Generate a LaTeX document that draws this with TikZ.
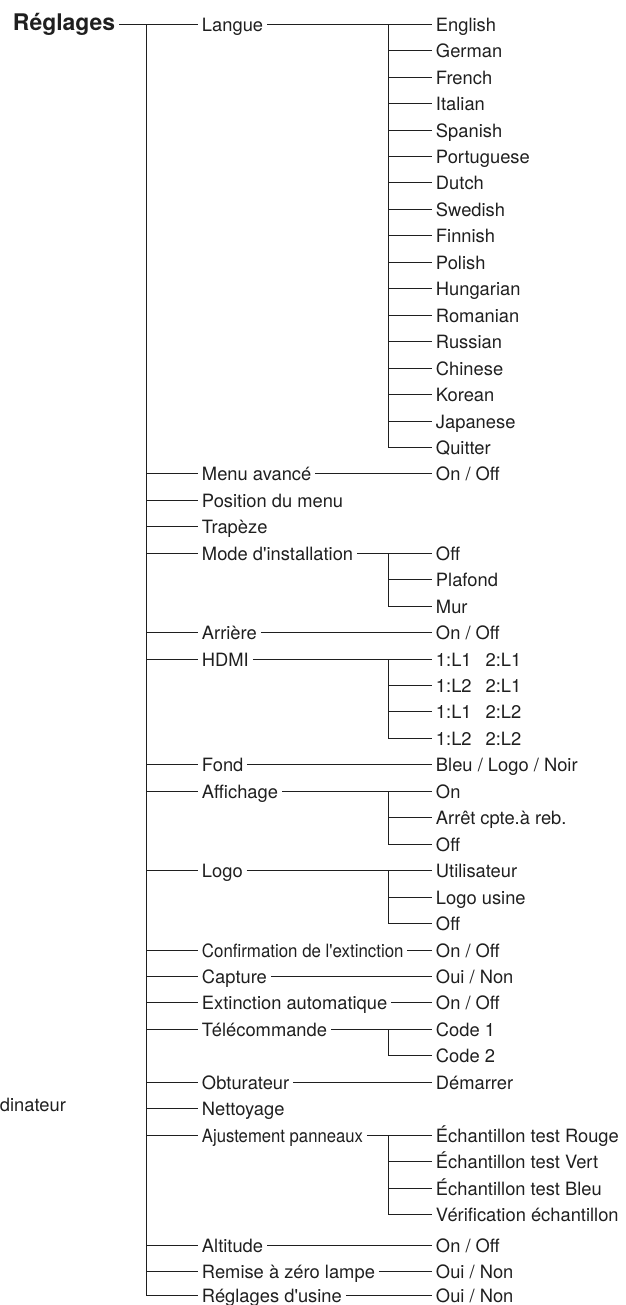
\documentclass[tikz,border=0pt]{standalone}
\usepackage{fontspec}
\setmainfont{TeX Gyre Heros}[Ligatures=TeXOff]

\tikzset{
  entry/.style={anchor=west, inner sep=0pt, outer xsep=4pt, text height=15pt, text depth=0pt,
    font=\fontsize{18.4}{20}\selectfont, text=black!88},
  title/.style={entry, text height=13pt, font=\bfseries\fontsize{23}{25}\selectfont},
  link/.style={line width=1.3bp, black!88},
}

\begin{document}
\begin{tikzpicture}[x=1bp, y=-1bp]
    \useasboundingbox (0,0) rectangle (626,1305);

    % Trunks
    \coordinate (trunk) at (146.5,24.5);
    \coordinate (sub) at (388.5,24.5);

    % Menu root
    \node[title] (reglages) at (9,24.5) {Réglages};
    \node[entry] (ordi) at (-4,1104.5) {dinateur};

    % First level
    \node[entry] (langue) at (198,24.5) {Langue};
    \node[entry] (menu) at (198,473.5) {Menu avancé};
    \node[entry] (position) at (198,500.5) {Position du menu};
    \node[entry] (trapeze) at (198,526.5) {Trapèze};
    \node[entry] (mode) at (198,553.5) {Mode d'installation};
    \node[entry] (arriere) at (198,632.5) {Arrière};
    \node[entry] (hdmi) at (198,659.5) {HDMI};
    \node[entry] (fond) at (198,764.5) {Fond};
    \node[entry] (affichage) at (198,791.5) {Affichage};
    \node[entry] (logo) at (198,870.5) {Logo};
    \node[entry] (confirm) at (198,950.5) {\addfontfeatures{FakeStretch=0.92}Confirmation de l'extinction};
    \node[entry] (capture) at (198,976.5) {Capture};
    \node[entry] (extinction) at (198,1002.5) {Extinction automatique};
    \node[entry] (telecom) at (198,1029.5) {Télécommande};
    \node[entry] (obturateur) at (198,1082.5) {Obturateur};
    \node[entry] (nettoyage) at (198,1108.5) {Nettoyage};
    \node[entry] (ajustement) at (198,1135.5) {\addfontfeatures{FakeStretch=0.91}Ajustement panneaux};
    \node[entry] (altitude) at (198,1245.5) {Altitude};
    \node[entry] (remise) at (198,1271.5) {Remise à zéro lampe};
    \node[entry] (usine) at (198,1295.5) {Réglages d'usine};

    % Languages
    \node[entry] (english) at (432,24.5) {English};
    \node[entry] (german) at (432,50.5) {German};
    \node[entry] (french) at (432,77.5) {French};
    \node[entry] (italian) at (432,103.5) {Italian};
    \node[entry] (spanish) at (432,130.5) {Spanish};
    \node[entry] (portuguese) at (432,156.5) {Portuguese};
    \node[entry] (dutch) at (432,182.5) {Dutch};
    \node[entry] (swedish) at (432,209.5) {Swedish};
    \node[entry] (finnish) at (432,235.5) {Finnish};
    \node[entry] (polish) at (432,262.5) {Polish};
    \node[entry] (hungarian) at (432,288.5) {Hungarian};
    \node[entry] (romanian) at (432,315.5) {Romanian};
    \node[entry] (russian) at (432,341.5) {Russian};
    \node[entry] (chinese) at (432,368.5) {Chinese};
    \node[entry] (korean) at (432,394.5) {Korean};
    \node[entry] (japanese) at (432,421.5) {Japanese};
    \node[entry] (quitter) at (432,447.5) {Quitter};

    % Other values
    \node[entry] (menuval) at (432,473.5) {On / Off};
    \node[entry] (modeoff) at (432,553.5) {Off};
    \node[entry] (plafond) at (432,579.5) {Plafond};
    \node[entry] (mur) at (432,606.5) {Mur};
    \node[entry] (arriereval) at (432,632.5) {On / Off};
    \node[entry] (hdmia) at (432,659.5) {1:L1\hspace{14pt}2:L1};
    \node[entry] (hdmib) at (432,685.5) {1:L2\hspace{14pt}2:L1};
    \node[entry] (hdmic) at (432,711.5) {1:L1\hspace{14pt}2:L2};
    \node[entry] (hdmid) at (432,738.5) {1:L2\hspace{14pt}2:L2};
    \node[entry] (fondval) at (432,764.5) {Bleu / Logo / Noir};
    \node[entry] (affon) at (432,791.5) {On};
    \node[entry] (affarret) at (432,817.5) {Arrêt cpte.à reb.};
    \node[entry] (affoff) at (432,844.5) {Off};
    \node[entry] (logouser) at (432,870.5) {Utilisateur};
    \node[entry] (logousine) at (432,897.5) {Logo usine};
    \node[entry] (logooff) at (432,923.5) {Off};
    \node[entry] (confirmval) at (432,950.5) {On / Off};
    \node[entry] (captureval) at (432,976.5) {Oui / Non};
    \node[entry] (extinctionval) at (432,1002.5) {On / Off};
    \node[entry] (codeone) at (432,1029.5) {Code 1};
    \node[entry] (codetwo) at (432,1055.5) {Code 2};
    \node[entry] (demarrer) at (432,1082.5) {Démarrer};
    \node[entry] (rouge) at (432,1135.5) {Échantillon test Rouge};
    \node[entry] (vert) at (432,1161.5) {Échantillon test Vert};
    \node[entry] (bleu) at (432,1188.5) {Échantillon test Bleu};
    \node[entry] (verif) at (432,1214.5) {Vérification échantillon};
    \node[entry] (altitudeval) at (432,1245.5) {On / Off};
    \node[entry] (remiseval) at (432,1271.5) {Oui / Non};
    \node[entry] (usineval) at (432,1295.5) {Oui / Non};

    % Main trunk and its branches
    \draw[link] (reglages.east) -- (langue.west);
    \draw[link] (trunk) |- (usine.west);
    \draw[link] (trunk |- menu.west) -- (menu.west);
    \draw[link] (trunk |- position.west) -- (position.west);
    \draw[link] (trunk |- trapeze.west) -- (trapeze.west);
    \draw[link] (trunk |- mode.west) -- (mode.west);
    \draw[link] (trunk |- arriere.west) -- (arriere.west);
    \draw[link] (trunk |- hdmi.west) -- (hdmi.west);
    \draw[link] (trunk |- fond.west) -- (fond.west);
    \draw[link] (trunk |- affichage.west) -- (affichage.west);
    \draw[link] (trunk |- logo.west) -- (logo.west);
    \draw[link] (trunk |- confirm.west) -- (confirm.west);
    \draw[link] (trunk |- capture.west) -- (capture.west);
    \draw[link] (trunk |- extinction.west) -- (extinction.west);
    \draw[link] (trunk |- telecom.west) -- (telecom.west);
    \draw[link] (trunk |- obturateur.west) -- (obturateur.west);
    \draw[link] (trunk |- nettoyage.west) -- (nettoyage.west);
    \draw[link] (trunk |- ajustement.west) -- (ajustement.west);
    \draw[link] (trunk |- altitude.west) -- (altitude.west);
    \draw[link] (trunk |- remise.west) -- (remise.west);

    % Langue
    \draw[link] (langue.east) -- (english.west);
    \draw[link] (sub) |- (quitter.west);
    \draw[link] (sub |- german.west) -- (german.west);
    \draw[link] (sub |- french.west) -- (french.west);
    \draw[link] (sub |- italian.west) -- (italian.west);
    \draw[link] (sub |- spanish.west) -- (spanish.west);
    \draw[link] (sub |- portuguese.west) -- (portuguese.west);
    \draw[link] (sub |- dutch.west) -- (dutch.west);
    \draw[link] (sub |- swedish.west) -- (swedish.west);
    \draw[link] (sub |- finnish.west) -- (finnish.west);
    \draw[link] (sub |- polish.west) -- (polish.west);
    \draw[link] (sub |- hungarian.west) -- (hungarian.west);
    \draw[link] (sub |- romanian.west) -- (romanian.west);
    \draw[link] (sub |- russian.west) -- (russian.west);
    \draw[link] (sub |- chinese.west) -- (chinese.west);
    \draw[link] (sub |- korean.west) -- (korean.west);
    \draw[link] (sub |- japanese.west) -- (japanese.west);

    % Single values
    \draw[link] (menu.east) -- (menuval.west);
    \draw[link] (arriere.east) -- (arriereval.west);
    \draw[link] (fond.east) -- (fondval.west);
    \draw[link] (confirm.east) -- (confirmval.west);
    \draw[link] (capture.east) -- (captureval.west);
    \draw[link] (extinction.east) -- (extinctionval.west);
    \draw[link] (obturateur.east) -- (demarrer.west);
    \draw[link] (altitude.east) -- (altitudeval.west);
    \draw[link] (remise.east) -- (remiseval.west);
    \draw[link] (usine.east) -- (usineval.west);

    % Mode d'installation
    \draw[link] (mode.east) -- (modeoff.west);
    \draw[link] (sub |- modeoff.west) |- (mur.west);
    \draw[link] (sub |- plafond.west) -- (plafond.west);

    % HDMI
    \draw[link] (hdmi.east) -- (hdmia.west);
    \draw[link] (sub |- hdmia.west) |- (hdmid.west);
    \draw[link] (sub |- hdmib.west) -- (hdmib.west);
    \draw[link] (sub |- hdmic.west) -- (hdmic.west);

    % Affichage
    \draw[link] (affichage.east) -- (affon.west);
    \draw[link] (sub |- affon.west) |- (affoff.west);
    \draw[link] (sub |- affarret.west) -- (affarret.west);

    % Logo
    \draw[link] (logo.east) -- (logouser.west);
    \draw[link] (sub |- logouser.west) |- (logooff.west);
    \draw[link] (sub |- logousine.west) -- (logousine.west);

    % Telecommande
    \draw[link] (telecom.east) -- (codeone.west);
    \draw[link] (sub |- codeone.west) |- (codetwo.west);

    % Ajustement panneaux
    \draw[link] (ajustement.east) -- (rouge.west);
    \draw[link] (sub |- rouge.west) |- (verif.west);
    \draw[link] (sub |- vert.west) -- (vert.west);
    \draw[link] (sub |- bleu.west) -- (bleu.west);
  \end{tikzpicture}
\end{document}
